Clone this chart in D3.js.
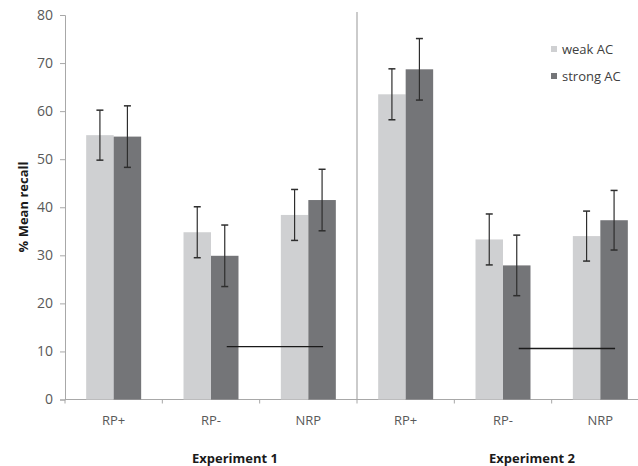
<!DOCTYPE html>
<html>
<head>
<meta charset="utf-8">
<script src="https://cdn.jsdelivr.net/npm/d3@7"></script>
<style>
  html, body { margin: 0; padding: 0; background: #fff; }
  svg { display: block; font-family: "Open Sans", "Liberation Sans", sans-serif; }
</style>
</head>
<body>
<svg id="chart" width="638" height="466"></svg>
<script>
// ---- data ----
const experiments = ["Experiment 1", "Experiment 2"];
const categories = ["RP+", "RP-", "NRP"];
const seriesNames = ["weak AC", "strong AC"];
// values per experiment x category (Exp1 RP+, RP-, NRP, Exp2 RP+, RP-, NRP)
const weakMeans   = [55.0, 34.8, 38.4, 63.5, 33.3, 34.0];
const weakErrors  = [5.2, 5.3, 5.3, 5.3, 5.3, 5.2];
const strongMeans = [54.7, 29.9, 41.5, 68.7, 27.9, 37.3];
const strongErrors= [6.4, 6.4, 6.4, 6.4, 6.3, 6.2];
const yTicks = [0, 10, 20, 30, 40, 50, 60, 70, 80];
const sigExperiment = ["Experiment 1", "Experiment 2"];
const sigFrom = ["RP-", "RP-"];
const sigTo = ["NRP", "NRP"];
const sigValue = [11.0, 10.6];

// ---- layout ----
const svg = d3.select("#chart");
const plotLeft = 65, plotRight = 649, plotTop = 15, plotBottom = 399.5;
const colors = {"weak AC": "#cfd0d2", "strong AC": "#747578"};
const axisColor = "#a8a8a8";
const textColor = "#595959";

const keys = [];
experiments.forEach(e => categories.forEach(c => keys.push(e + "|" + c)));

const x0 = d3.scaleBand().domain(keys).range([plotLeft, plotRight]).padding(0);
const x1 = d3.scaleBand().domain(seriesNames).range([0, x0.bandwidth()])
  .paddingInner(0).paddingOuter(0.77);
const y = d3.scaleLinear().domain([0, 80]).range([plotBottom, plotTop]);

const rows = keys.map((k, i) => ({
  key: k,
  exp: k.split("|")[0],
  cat: k.split("|")[1],
  vals: [
    {s: "weak AC", v: weakMeans[i], e: weakErrors[i]},
    {s: "strong AC", v: strongMeans[i], e: strongErrors[i]}
  ]
}));

// y axis
const yAxis = d3.axisLeft(y).tickValues(yTicks).tickSize(5).tickPadding(7);
const gy = svg.append("g").attr("transform", `translate(${plotLeft},0)`).call(yAxis);
gy.select(".domain").attr("stroke", axisColor);
gy.selectAll(".tick line").attr("stroke", axisColor);
gy.selectAll(".tick text").attr("fill", textColor).attr("font-size", 14)
  .attr("font-family", "'Open Sans', sans-serif");

// x axis baseline and category ticks
svg.append("line").attr("x1", plotLeft).attr("x2", 638).attr("y1", plotBottom).attr("y2", plotBottom)
  .attr("stroke", axisColor);
const boundaries = keys.map(k => x0(k));
svg.selectAll(".xtick").data(boundaries).enter().append("line")
  .attr("x1", d => d).attr("x2", d => d)
  .attr("y1", plotBottom).attr("y2", plotBottom + 4)
  .attr("stroke", axisColor);

// divider between experiments
const divX = x0(experiments[1] + "|" + categories[0]);
svg.append("line").attr("x1", divX).attr("x2", divX).attr("y1", 12).attr("y2", plotBottom)
  .attr("stroke", axisColor).attr("stroke-width", 1.2);

// bars
const groups = svg.selectAll(".grp").data(rows).enter().append("g")
  .attr("transform", d => `translate(${x0(d.key)},0)`);
groups.selectAll("rect").data(d => d.vals).enter().append("rect")
  .attr("x", d => x1(d.s)).attr("width", x1.bandwidth())
  .attr("y", d => y(d.v)).attr("height", d => y(0) - y(d.v))
  .attr("fill", d => colors[d.s]);

// error bars
const eb = groups.selectAll(".eb").data(d => d.vals).enter().append("g")
  .attr("transform", d => `translate(${x1(d.s) + x1.bandwidth() / 2},0)`);
eb.append("line").attr("x1", 0).attr("x2", 0)
  .attr("y1", d => y(d.v + d.e)).attr("y2", d => y(d.v - d.e))
  .attr("stroke", "#2e2e2e").attr("stroke-width", 1.2);
eb.append("line").attr("x1", -3.5).attr("x2", 3.5)
  .attr("y1", d => y(d.v + d.e)).attr("y2", d => y(d.v + d.e))
  .attr("stroke", "#2e2e2e").attr("stroke-width", 1.5);
eb.append("line").attr("x1", -3.5).attr("x2", 3.5)
  .attr("y1", d => y(d.v - d.e)).attr("y2", d => y(d.v - d.e))
  .attr("stroke", "#2e2e2e").attr("stroke-width", 1.5);

// significance lines (between strong AC bars)
sigExperiment.forEach((e, i) => {
  const xa = x0(e + "|" + sigFrom[i]) + x1("strong AC") + x1.bandwidth() / 2 + 2;
  const xb = x0(e + "|" + sigTo[i]) + x1("strong AC") + x1.bandwidth() / 2 + 1;
  svg.append("line").attr("x1", xa).attr("x2", xb)
    .attr("y1", y(sigValue[i])).attr("y2", y(sigValue[i]))
    .attr("stroke", "#1a1a1a").attr("stroke-width", 1.4);
});

// category labels
svg.selectAll(".catlab").data(rows).enter().append("text")
  .attr("x", d => x0(d.key) + x0.bandwidth() / 2)
  .attr("y", 425)
  .attr("text-anchor", "middle")
  .attr("font-size", 13).attr("fill", textColor)
  .text(d => d.cat);

// experiment labels
const expShift = [24, 29];
experiments.forEach((e, i) => {
  const mid = x0(e + "|" + categories[1]) + x0.bandwidth() / 2 + expShift[i];
  svg.append("text").attr("x", mid).attr("y", 463)
    .attr("text-anchor", "middle").attr("font-size", 13).attr("font-weight", "bold")
    .attr("fill", "#1a1a1a").text(e);
});

// y title
svg.append("text")
  .attr("transform", "translate(28,207) rotate(-90)")
  .attr("text-anchor", "middle").attr("font-size", 13).attr("font-weight", "bold")
  .attr("fill", "#1a1a1a").text("% Mean recall");

// legend
const lg = svg.append("g").attr("transform", "translate(551,0)");
seriesNames.forEach((s, i) => {
  const cy = 49 + i * 27;
  lg.append("rect").attr("x", 0).attr("y", cy - 3).attr("width", 6).attr("height", 6)
    .attr("fill", colors[s]);
  lg.append("text").attr("x", 11).attr("y", cy + 4.5).attr("font-size", 13)
    .attr("fill", "#404040").text(s);
});
</script>
</body>
</html>
